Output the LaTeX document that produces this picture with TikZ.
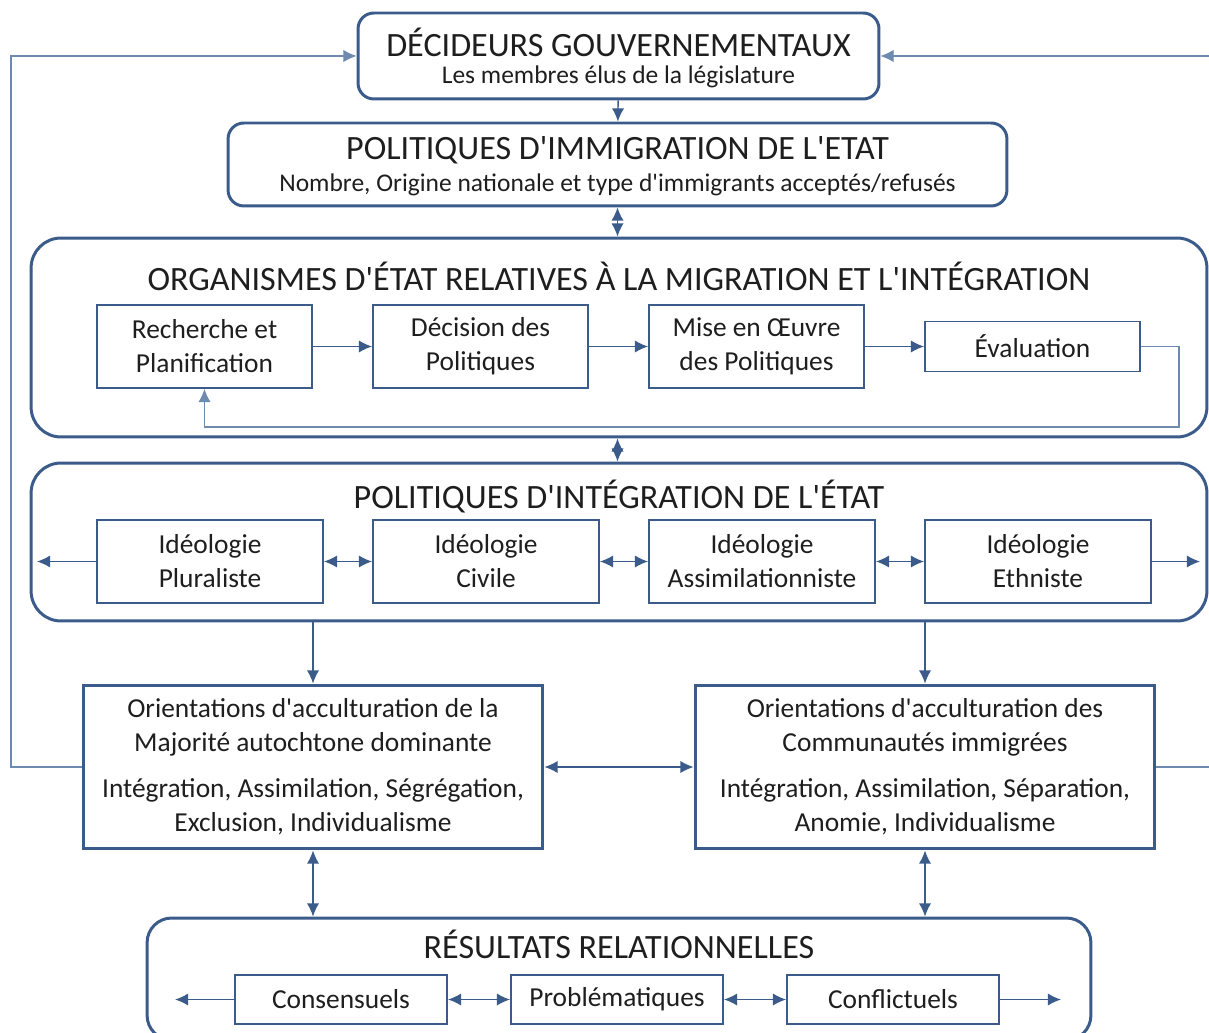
\documentclass[tikz,border=0pt]{standalone}
\usepackage{fontspec}
\setmainfont{Carlito}[Ligatures=TeXOff]
\usetikzlibrary{arrows.meta}

\definecolor{frame}{RGB}{59,91,138}
\definecolor{ink}  {RGB}{30,30,30}
\definecolor{loop} {RGB}{110,138,175}

\tikzset{
  outer/.style={draw=frame, line width=1.7pt, rounded corners=9pt, inner sep=0pt},
  wide/.style={draw=frame, line width=1.7pt, rounded corners=17pt, inner sep=0pt},
  inner/.style={draw=frame, line width=1.1pt, text=ink, align=center, inner sep=0pt,
                font=\fontsize{15.6}{19.3}\selectfont},
  ttl/.style={text=ink, font=\fontsize{19.4}{23}\selectfont},
  sub/.style={text=ink, font=\fontsize{14.5}{17}\selectfont},
  link/.style={draw=frame, line width=0.8pt, arrows={-Latex[length=7.5pt,width=7pt]}},
  both/.style={draw=frame, line width=0.8pt, arrows={Latex[length=7.5pt,width=7pt]-Latex[length=7.5pt,width=7pt]}},
  back/.style={draw=loop, line width=0.6pt, arrows={-Latex[length=7.5pt,width=7pt]}},
}

\begin{document}
\begin{tikzpicture}[x=0.02cm, y=-0.02cm]

    \clip (0,0) rectangle (1209,1033);

    % top boxes
    \node[outer, minimum width=10.42cm, minimum height=1.72cm] (dec) at (618.5,56) {};
    \node[ttl] (dect) at (618.5,42) {DÉCIDEURS GOUVERNEMENTAUX};
    \node[sub] (decs) at (618.5,77) {Les membres élus de la législature};

    \node[outer, minimum width=15.58cm, minimum height=1.66cm] (imm) at (617.5,164.5) {};
    \node[ttl] (immt) at (617.5,150) {POLITIQUES D'IMMIGRATION DE L'ETAT};
    \node[sub] (imms) at (617.5,185) {Nombre, Origine nationale et type d'immigrants acceptés/refusés};

    % organismes
    \node[wide, minimum width=23.52cm, minimum height=3.98cm] (org) at (619,337.5) {};
    \node[ttl] (orgt) at (619,276) {ORGANISMES D'ÉTAT RELATIVES À LA MIGRATION ET L'INTÉGRATION};
    \node[inner, minimum width=4.3cm, minimum height=1.66cm] (rech) at (204.5,346.5) {Recherche et\\Planification};
    \node[inner, minimum width=4.3cm, minimum height=1.66cm] (deci) at (480.5,346.5) {Décision des\\Politiques};
    \node[inner, minimum width=4.3cm, minimum height=1.66cm] (mise) at (756.5,346.5) {Mise en Œuvre\\des Politiques};
    \node[inner, minimum width=4.3cm, minimum height=1.0cm] (eval) at (1032.5,346.5) {Évaluation};

    % integration
    \node[wide, minimum width=23.52cm, minimum height=3.16cm] (integ) at (619,542) {};
    \node[ttl] (integt) at (619,497) {POLITIQUES D'INTÉGRATION DE L'ÉTAT};
    \node[inner, minimum width=4.52cm, minimum height=1.66cm] (plur)  at (210,561.5)  {Idéologie\\Pluraliste};
    \node[inner, minimum width=4.52cm, minimum height=1.66cm] (civ)   at (486,561.5)  {Idéologie\\Civile};
    \node[inner, minimum width=4.52cm, minimum height=1.66cm] (assim) at (762,561.5)  {Idéologie\\Assimilationniste};
    \node[inner, minimum width=4.52cm, minimum height=1.66cm] (ethn)  at (1038,561.5) {Idéologie\\Ethniste};

    % acculturation
    \node[inner, line width=1.7pt, minimum width=9.2cm, minimum height=3.28cm] (maj) at (313,767)
      {Orientations d'acculturation de la\\Majorité autochtone dominante\\[7pt]Intégration, Assimilation, Ségrégation,\\Exclusion, Individualisme};
    \node[inner, line width=1.7pt, minimum width=9.2cm, minimum height=3.28cm] (com) at (925,767)
      {Orientations d'acculturation des\\Communautés immigrées\\[7pt]Intégration, Assimilation, Séparation,\\Anomie, Individualisme};

    % resultats
    \node[wide, rounded corners=14pt, minimum width=18.88cm, minimum height=2.44cm] (res) at (619,979) {};
    \node[ttl] (rest) at (619,944) {RÉSULTATS RELATIONNELLES};
    \node[inner, minimum width=4.24cm, minimum height=0.98cm] (cons) at (341,999.5) {Consensuels};
    \node[inner, minimum width=4.24cm, minimum height=0.98cm] (prob) at (617,999.5) {Problématiques};
    \node[inner, minimum width=4.24cm, minimum height=0.98cm] (conf) at (893,999.5) {Conflictuels};

    \coordinate (il) at (37,561.5);
    \coordinate (ir) at (1200,561.5);
    \coordinate (rl) at (175,999.5);
    \coordinate (rr) at (1061,999.5);

    % arrows
    \draw[link] (dec) to (imm);
    \draw[both] (imm) to (org.north -| imm.south);
    \draw[both] (org.south -| imm.south) to (integ.north -| imm.south);

    \draw[link] (rech) to (deci);
    \draw[link] (deci) to (mise);
    \draw[link] (mise) to (eval);
    \draw[back] (eval.east) -- (1179,346.5) -- (1179,427) -- (rech.south |- 0,427) -- (rech.south);

    \draw[link] (plur) to (il);
    \draw[both] (plur) to (civ);
    \draw[both] (civ) to (assim);
    \draw[both] (assim) to (ethn);
    \draw[link] (ethn) to (ir);

    \draw[link] (maj.north |- integ.south) to (maj.north);
    \draw[link] (com.north |- integ.south) to (com.north);
    \draw[both] (maj) to (com);

    \draw[back] (maj.west) -- (11,767) -- (11,56) -- (dec.west);
    \draw[back] (com.east) -- (1215,767) -- (1215,56) -- (dec.east);

    \draw[both] (maj.south) to (maj.south |- res.north);
    \draw[both] (com.south) to (com.south |- res.north);

    \draw[link] (cons) to (rl);
    \draw[both] (cons) to (prob);
    \draw[both] (prob) to (conf);
    \draw[link] (conf) to (rr);

\end{tikzpicture}
\end{document}
